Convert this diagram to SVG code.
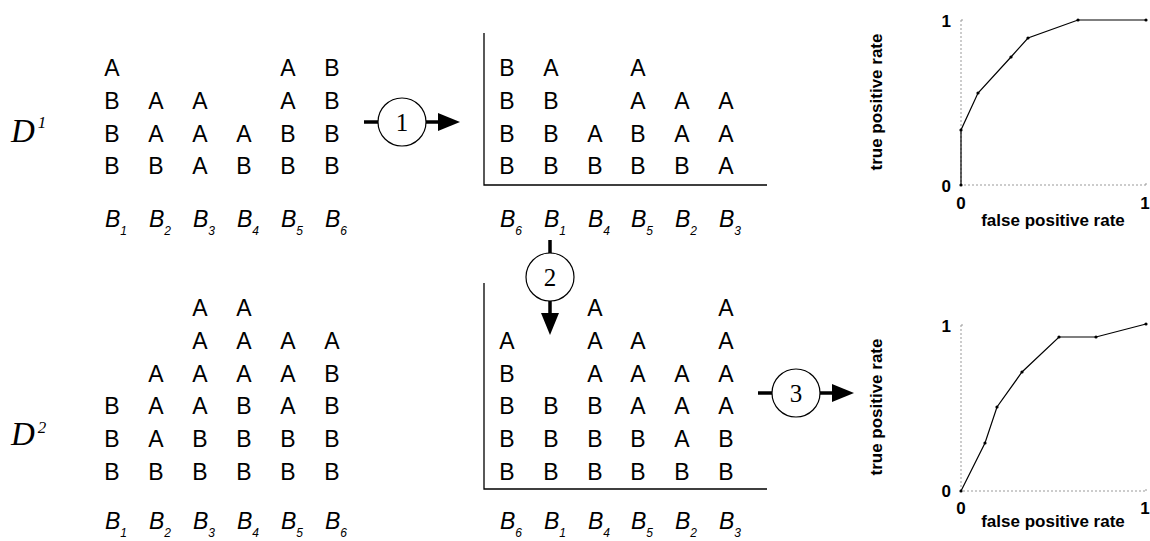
<svg xmlns="http://www.w3.org/2000/svg" width="1150" height="541" viewBox="0 0 1150 541">
  <style>
    .g { font-family: "Liberation Sans", Arial, sans-serif; font-size: 23px; text-anchor: middle; fill: #000; }
    .lbl { font-family: "Liberation Sans", Arial, sans-serif; font-size: 23px; font-style: italic; fill: #000; }
    .sub { font-size: 12px; }
    .dset { font-family: "Liberation Serif", "Times New Roman", serif; font-size: 33px; font-style: italic; fill: #000; }
    .dsup { font-size: 17px; }
    .axis { stroke: #000; stroke-width: 1.3; fill: none; }
    .step { fill: #fff; stroke: #000; stroke-width: 1.2; }
    .stepnum { font-family: "Liberation Serif", "Times New Roman", serif; font-size: 25px; text-anchor: middle; fill: #000; }
    .conn { stroke: #000; stroke-width: 3.5; fill: none; }
    .grid { stroke: #999; stroke-width: 1; stroke-dasharray: 2 2; fill: none; }
    .roc { stroke: #000; stroke-width: 1.2; fill: none; }
    .pt { fill: #000; }
    .ax { font-family: "Liberation Sans", Arial, sans-serif; font-size: 17px; font-weight: bold; fill: #000; }
  </style>
  <defs>
    <marker id="head" markerUnits="userSpaceOnUse" markerWidth="22" markerHeight="18" refX="0" refY="9" orient="auto">
      <path d="M0,0 L22,9 L0,18 z" fill="#000"/>
    </marker>
  </defs>

  <!-- dataset labels -->
  <g id="label-d1">
    <text class="dset" x="11" y="142">D<tspan class="dsup" dx="3" dy="-14">1</tspan></text>
  </g>
  <g id="label-d2">
    <text class="dset" x="11" y="445">D<tspan class="dsup" dx="3" dy="-12">2</tspan></text>
  </g>

  <!-- D1: raw bags -->
  <g id="d1-bags">
    <text class="g" x="112 288 332" y="76">AAB</text>
    <text class="g" x="112 156 200 288 332" y="109">BAAAB</text>
    <text class="g" x="112 156 200 244 288 332" y="142">BAAABB</text>
    <text class="g" x="112 156 200 244 288 332" y="174">BBABBB</text>
    <text class="lbl" x="105" y="227">B<tspan class="sub" dy="8">1</tspan></text>
    <text class="lbl" x="149" y="227">B<tspan class="sub" dy="8">2</tspan></text>
    <text class="lbl" x="193" y="227">B<tspan class="sub" dy="8">3</tspan></text>
    <text class="lbl" x="237" y="227">B<tspan class="sub" dy="8">4</tspan></text>
    <text class="lbl" x="281" y="227">B<tspan class="sub" dy="8">5</tspan></text>
    <text class="lbl" x="325" y="227">B<tspan class="sub" dy="8">6</tspan></text>
  </g>

  <!-- D1: ranked bags -->
  <g id="d1-ranked">
    <path class="axis" d="M484,33 V185 H767"/>
    <text class="g" x="507 551 638" y="76">BAA</text>
    <text class="g" x="507 551 638 682 726" y="109">BBAAA</text>
    <text class="g" x="507 551 595 638 682 726" y="142">BBABAA</text>
    <text class="g" x="507 551 595 638 682 726" y="174">BBBBBA</text>
    <text class="lbl" x="500" y="227">B<tspan class="sub" dy="8">6</tspan></text>
    <text class="lbl" x="544" y="227">B<tspan class="sub" dy="8">1</tspan></text>
    <text class="lbl" x="588" y="227">B<tspan class="sub" dy="8">4</tspan></text>
    <text class="lbl" x="631" y="227">B<tspan class="sub" dy="8">5</tspan></text>
    <text class="lbl" x="675" y="227">B<tspan class="sub" dy="8">2</tspan></text>
    <text class="lbl" x="719" y="227">B<tspan class="sub" dy="8">3</tspan></text>
  </g>

  <!-- D2: raw bags -->
  <g id="d2-bags">
    <text class="g" x="200 244" y="316">AA</text>
    <text class="g" x="200 244 288 332" y="349">AAAA</text>
    <text class="g" x="156 200 244 288 332" y="382">AAAAB</text>
    <text class="g" x="112 156 200 244 288 332" y="414">BAABAB</text>
    <text class="g" x="112 156 200 244 288 332" y="447">BABBBB</text>
    <text class="g" x="112 156 200 244 288 332" y="480">BBBBBB</text>
    <text class="lbl" x="105" y="529">B<tspan class="sub" dy="8">1</tspan></text>
    <text class="lbl" x="149" y="529">B<tspan class="sub" dy="8">2</tspan></text>
    <text class="lbl" x="193" y="529">B<tspan class="sub" dy="8">3</tspan></text>
    <text class="lbl" x="237" y="529">B<tspan class="sub" dy="8">4</tspan></text>
    <text class="lbl" x="281" y="529">B<tspan class="sub" dy="8">5</tspan></text>
    <text class="lbl" x="325" y="529">B<tspan class="sub" dy="8">6</tspan></text>
  </g>

  <!-- D2: bags in the D1 ranking order -->
  <g id="d2-ranked">
    <path class="axis" d="M484,283 V489 H767"/>
    <text class="g" x="595 726" y="316">AA</text>
    <text class="g" x="507 595 638 726" y="349">AAAA</text>
    <text class="g" x="507 595 638 682 726" y="382">BAAAA</text>
    <text class="g" x="507 551 595 638 682 726" y="414">BBBAAA</text>
    <text class="g" x="507 551 595 638 682 726" y="447">BBBBAB</text>
    <text class="g" x="507 551 595 638 682 726" y="480">BBBBBB</text>
    <text class="lbl" x="500" y="529">B<tspan class="sub" dy="8">6</tspan></text>
    <text class="lbl" x="544" y="529">B<tspan class="sub" dy="8">1</tspan></text>
    <text class="lbl" x="588" y="529">B<tspan class="sub" dy="8">4</tspan></text>
    <text class="lbl" x="631" y="529">B<tspan class="sub" dy="8">5</tspan></text>
    <text class="lbl" x="675" y="529">B<tspan class="sub" dy="8">2</tspan></text>
    <text class="lbl" x="719" y="529">B<tspan class="sub" dy="8">3</tspan></text>
  </g>

  <!-- process connectors -->
  <g id="connectors">
    <line class="conn" x1="364" y1="122" x2="378" y2="122"/>
    <line class="conn" x1="426" y1="122" x2="438" y2="122" marker-end="url(#head)"/>
    <line class="conn" x1="550" y1="240" x2="550" y2="254"/>
    <line class="conn" x1="550" y1="301" x2="550" y2="313" marker-end="url(#head)"/>
    <line class="conn" x1="758" y1="393" x2="772" y2="393"/>
    <line class="conn" x1="820" y1="393" x2="832" y2="393" marker-end="url(#head)"/>
  </g>

  <!-- numbered steps -->
  <g id="step-1">
    <circle class="step" cx="402" cy="122" r="24"/>
    <text class="stepnum" x="402" y="131">1</text>
  </g>
  <g id="step-2">
    <circle class="step" cx="550" cy="277" r="24"/>
    <text class="stepnum" x="550" y="286">2</text>
  </g>
  <g id="step-3">
    <circle class="step" cx="796" cy="393" r="24"/>
    <text class="stepnum" x="796" y="402">3</text>
  </g>

  <!-- ROC curve for D1 -->
  <g id="roc-d1">
    <path class="grid" d="M961,20 V185 H1146"/>
    <path class="grid" d="M961,20 H964 M1146,185 V182"/>
    <polyline class="roc" points="961,185 961,130 978,93 1011,57 1028,38 1078,20 1146,20"/>
    <g class="pt">
      <circle cx="961" cy="185" r="1.6"/><circle cx="961" cy="130" r="1.6"/>
      <circle cx="978" cy="93" r="1.6"/><circle cx="1011" cy="57" r="1.6"/>
      <circle cx="1028" cy="38" r="1.6"/><circle cx="1078" cy="20" r="1.6"/>
      <circle cx="1146" cy="20" r="1.6"/>
    </g>
    <text class="ax" x="951" y="27" text-anchor="end">1</text>
    <text class="ax" x="951" y="192" text-anchor="end">0</text>
    <text class="ax" x="961" y="209" text-anchor="middle">0</text>
    <text class="ax" x="1145" y="209" text-anchor="middle">1</text>
    <text class="ax" x="1053" y="226" text-anchor="middle">false positive rate</text>
    <text class="ax" transform="translate(882,102) rotate(-90)" text-anchor="middle">true positive rate</text>
  </g>

  <!-- ROC curve for D2 -->
  <g id="roc-d2">
    <path class="grid" d="M961,325 V491 H1146"/>
    <path class="grid" d="M961,325 H964 M1146,491 V488"/>
    <polyline class="roc" points="961,491 985,443 997,407 1022,372 1059,337 1096,337 1146,324"/>
    <g class="pt">
      <circle cx="961" cy="491" r="1.6"/><circle cx="985" cy="443" r="1.6"/>
      <circle cx="997" cy="407" r="1.6"/><circle cx="1022" cy="372" r="1.6"/>
      <circle cx="1059" cy="337" r="1.6"/><circle cx="1096" cy="337" r="1.6"/>
      <circle cx="1146" cy="324" r="1.6"/>
    </g>
    <text class="ax" x="951" y="332" text-anchor="end">1</text>
    <text class="ax" x="951" y="497" text-anchor="end">0</text>
    <text class="ax" x="961" y="514" text-anchor="middle">0</text>
    <text class="ax" x="1145" y="514" text-anchor="middle">1</text>
    <text class="ax" x="1053" y="527" text-anchor="middle">false positive rate</text>
    <text class="ax" transform="translate(882,407) rotate(-90)" text-anchor="middle">true positive rate</text>
  </g>
</svg>
